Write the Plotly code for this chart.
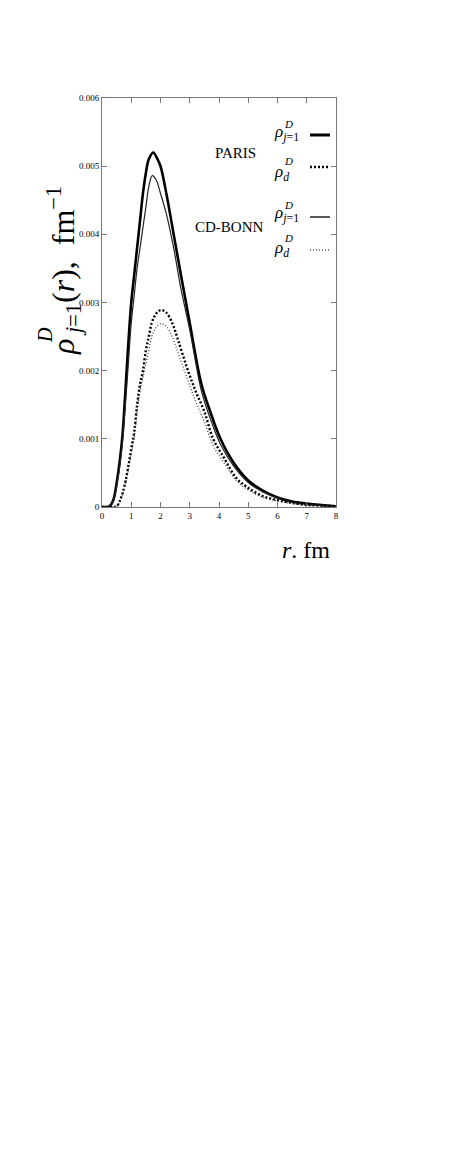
import plotly.graph_objects as go

r_paris_j = [0, 0.25, 0.3, 0.4, 0.5, 0.6, 0.7, 0.8, 0.9, 1.0, 1.1, 1.2, 1.3, 1.4, 1.5, 1.6, 1.75,
             1.9, 2.0, 2.2, 2.45, 2.7, 3.0, 3.4, 3.7, 4.05, 4.5, 5.0, 5.5, 6.0, 6.5, 7.0, 7.5, 8.0]
paris_j = [0, 0.00001, 0.00003, 0.00012, 0.00035, 0.00065, 0.00105, 0.0017, 0.0024, 0.003, 0.0034,
           0.0038, 0.0042, 0.0046, 0.0049, 0.0051, 0.0052, 0.0051, 0.005, 0.0046, 0.004, 0.0034,
           0.0027, 0.0018, 0.0014, 0.001, 0.00065, 0.00039, 0.00024, 0.00014, 0.00008, 0.00005,
           0.00003, 0.00001]

r_bonn_j = [0, 0.25, 0.3, 0.4, 0.5, 0.6, 0.7, 0.8, 0.9, 1.0, 1.1, 1.2, 1.3, 1.4, 1.5, 1.6, 1.72,
            1.85, 2.0, 2.2, 2.45, 2.7, 3.0, 3.4, 3.7, 4.05, 4.5, 5.0, 5.5, 6.0, 6.5, 7.0, 7.5, 8.0]
bonn_j = [0, 0.00001, 0.00002, 0.0001, 0.0003, 0.00058, 0.00095, 0.0015, 0.0021, 0.0027, 0.0031,
          0.0035, 0.0038, 0.0041, 0.0044, 0.0047, 0.00486, 0.0048, 0.0046, 0.0043, 0.0038, 0.0032,
          0.0026, 0.0017, 0.0013, 0.00092, 0.0006, 0.00036, 0.00022, 0.00013, 0.00007, 0.00004,
          0.00002, 0.00001]

r_d = [0, 0.4, 0.5, 0.6, 0.7, 0.8, 0.9, 1.0, 1.1, 1.2, 1.3, 1.4, 1.5, 1.6, 1.7, 1.8, 1.9, 2.03,
       2.2, 2.4, 2.6, 2.9, 3.2, 3.5, 3.8, 4.2, 4.6, 5.0, 5.5, 6.0, 6.5, 7.0, 7.5, 8.0]
paris_d = [0, 0, 0.00001, 0.00008, 0.0002, 0.00037, 0.0006, 0.00085, 0.0011, 0.0015, 0.0018, 0.002,
           0.0023, 0.0025, 0.0027, 0.0028, 0.00286, 0.00289, 0.00285, 0.0027, 0.00245, 0.00205,
           0.0017, 0.0014, 0.001, 0.0007, 0.00042, 0.00028, 0.00016, 0.0001, 0.00006, 0.00003,
           0.00002, 0.00001]
bonn_d = [0, 0, 0.00001, 0.00007, 0.00018, 0.00034, 0.00055, 0.00079, 0.001, 0.0014, 0.0017, 0.0019,
          0.0021, 0.0023, 0.0025, 0.0026, 0.00266, 0.00269, 0.00265, 0.0025, 0.00226, 0.0019,
          0.00155, 0.00125, 0.0009, 0.00063, 0.00038, 0.00025, 0.00014, 0.00009, 0.00005, 0.00003,
          0.00002, 0.00001]

y_ticks = [0, 0.001, 0.002, 0.003, 0.004, 0.005, 0.006]
y_ticktext = ["0", "0.001", "0.002", "0.003", "0.004", "0.005", "0.006"]
x_ticks = [0, 1, 2, 3, 4, 5, 6, 7, 8]

SERIF = "Liberation Serif"

# plot box on the page (body adds 8px offset)
X0, X1, Y0, Y1 = 102, 336, 98, 507


def px(X):
    return (X - X0) / (X1 - X0)


def py(Y):
    return (Y1 - Y) / (Y1 - Y0)


fig = go.Figure()
fig.add_trace(go.Scatter(x=r_paris_j, y=paris_j, mode="lines", line_shape="spline",
                         line=dict(color="black", width=2.6)))
fig.add_trace(go.Scatter(x=r_bonn_j, y=bonn_j, mode="lines", line_shape="spline",
                         line=dict(color="#222222", width=1.2)))
fig.add_trace(go.Scatter(x=r_d, y=paris_d, mode="lines", line_shape="spline",
                         line=dict(color="black", width=2.4, dash="2px,2px")))
fig.add_trace(go.Scatter(x=r_d, y=bonn_d, mode="lines", line_shape="spline",
                         line=dict(color="#333333", width=1.2, dash="1px,2px")))

axis_style = dict(showline=True, linecolor="#777777", linewidth=1, mirror="ticks",
                  ticks="inside", ticklen=5, tickcolor="#777777", showgrid=False,
                  zeroline=False, automargin=False,
                  tickfont=dict(family=SERIF, size=9, color="black"))

fig.update_xaxes(range=[0, 8], tickvals=x_ticks, **axis_style)
fig.update_yaxes(range=[0, 0.006], tickvals=y_ticks, ticktext=y_ticktext, **axis_style)


def note(X, Y, text, size, **kw):
    d = dict(x=px(X), y=py(Y), xref="paper", yref="paper", showarrow=False, text=text,
             xanchor="center", yanchor="middle",
             font=dict(family=SERIF, size=size, color="black"))
    d.update(kw)
    return d


ann = []
# y axis title
ann.append(note(63, 271, "<i>ρ</i><sub> <i>j</i>=1</sub>(<i>r</i>),  fm<sup>−1</sup>", 32,
                textangle=-90))
ann.append(note(45, 335, "<i>D</i>", 20, textangle=-90))
# x axis title
ann.append(note(332, 550, "<i>r</i>. fm", 24, xanchor="right"))
# legend
ann.append(note(258, 153, "PARIS", 15, xanchor="right"))
ann.append(note(266, 227, "CD-BONN", 15, xanchor="right"))
for Y, Yd, sub in [(133, 124, "<i>j</i>=1"), (173, 161, "<i>d</i>"),
                   (214, 205, "<i>j</i>=1"), (249, 238, "<i>d</i>")]:
    ann.append(note(272, Y, "<i>ρ</i><sub>" + sub + "</sub>", 17, xanchor="left"))
    ann.append(note(282, Yd, "<i>D</i>", 11, xanchor="left"))
fig.update_layout(annotations=ann)

shapes = []
for Y, w, d in [(135, 3, "solid"), (167, 2.4, "2px,2px"), (217, 1.3, "solid"), (250, 1.2, "1px,2px")]:
    shapes.append(dict(type="line", xref="paper", yref="paper", x0=px(310), x1=px(330),
                       y0=py(Y), y1=py(Y), line=dict(color="black", width=w, dash=d)))
fig.update_layout(shapes=shapes)

fig.update_layout(width=456, height=1170, showlegend=False,
                  paper_bgcolor="white", plot_bgcolor="white",
                  margin=dict(l=X0 - 8, r=456 - X1 + 8, t=Y0 - 8, b=1170 - Y1 + 8))

fig.write_html("out.html")
